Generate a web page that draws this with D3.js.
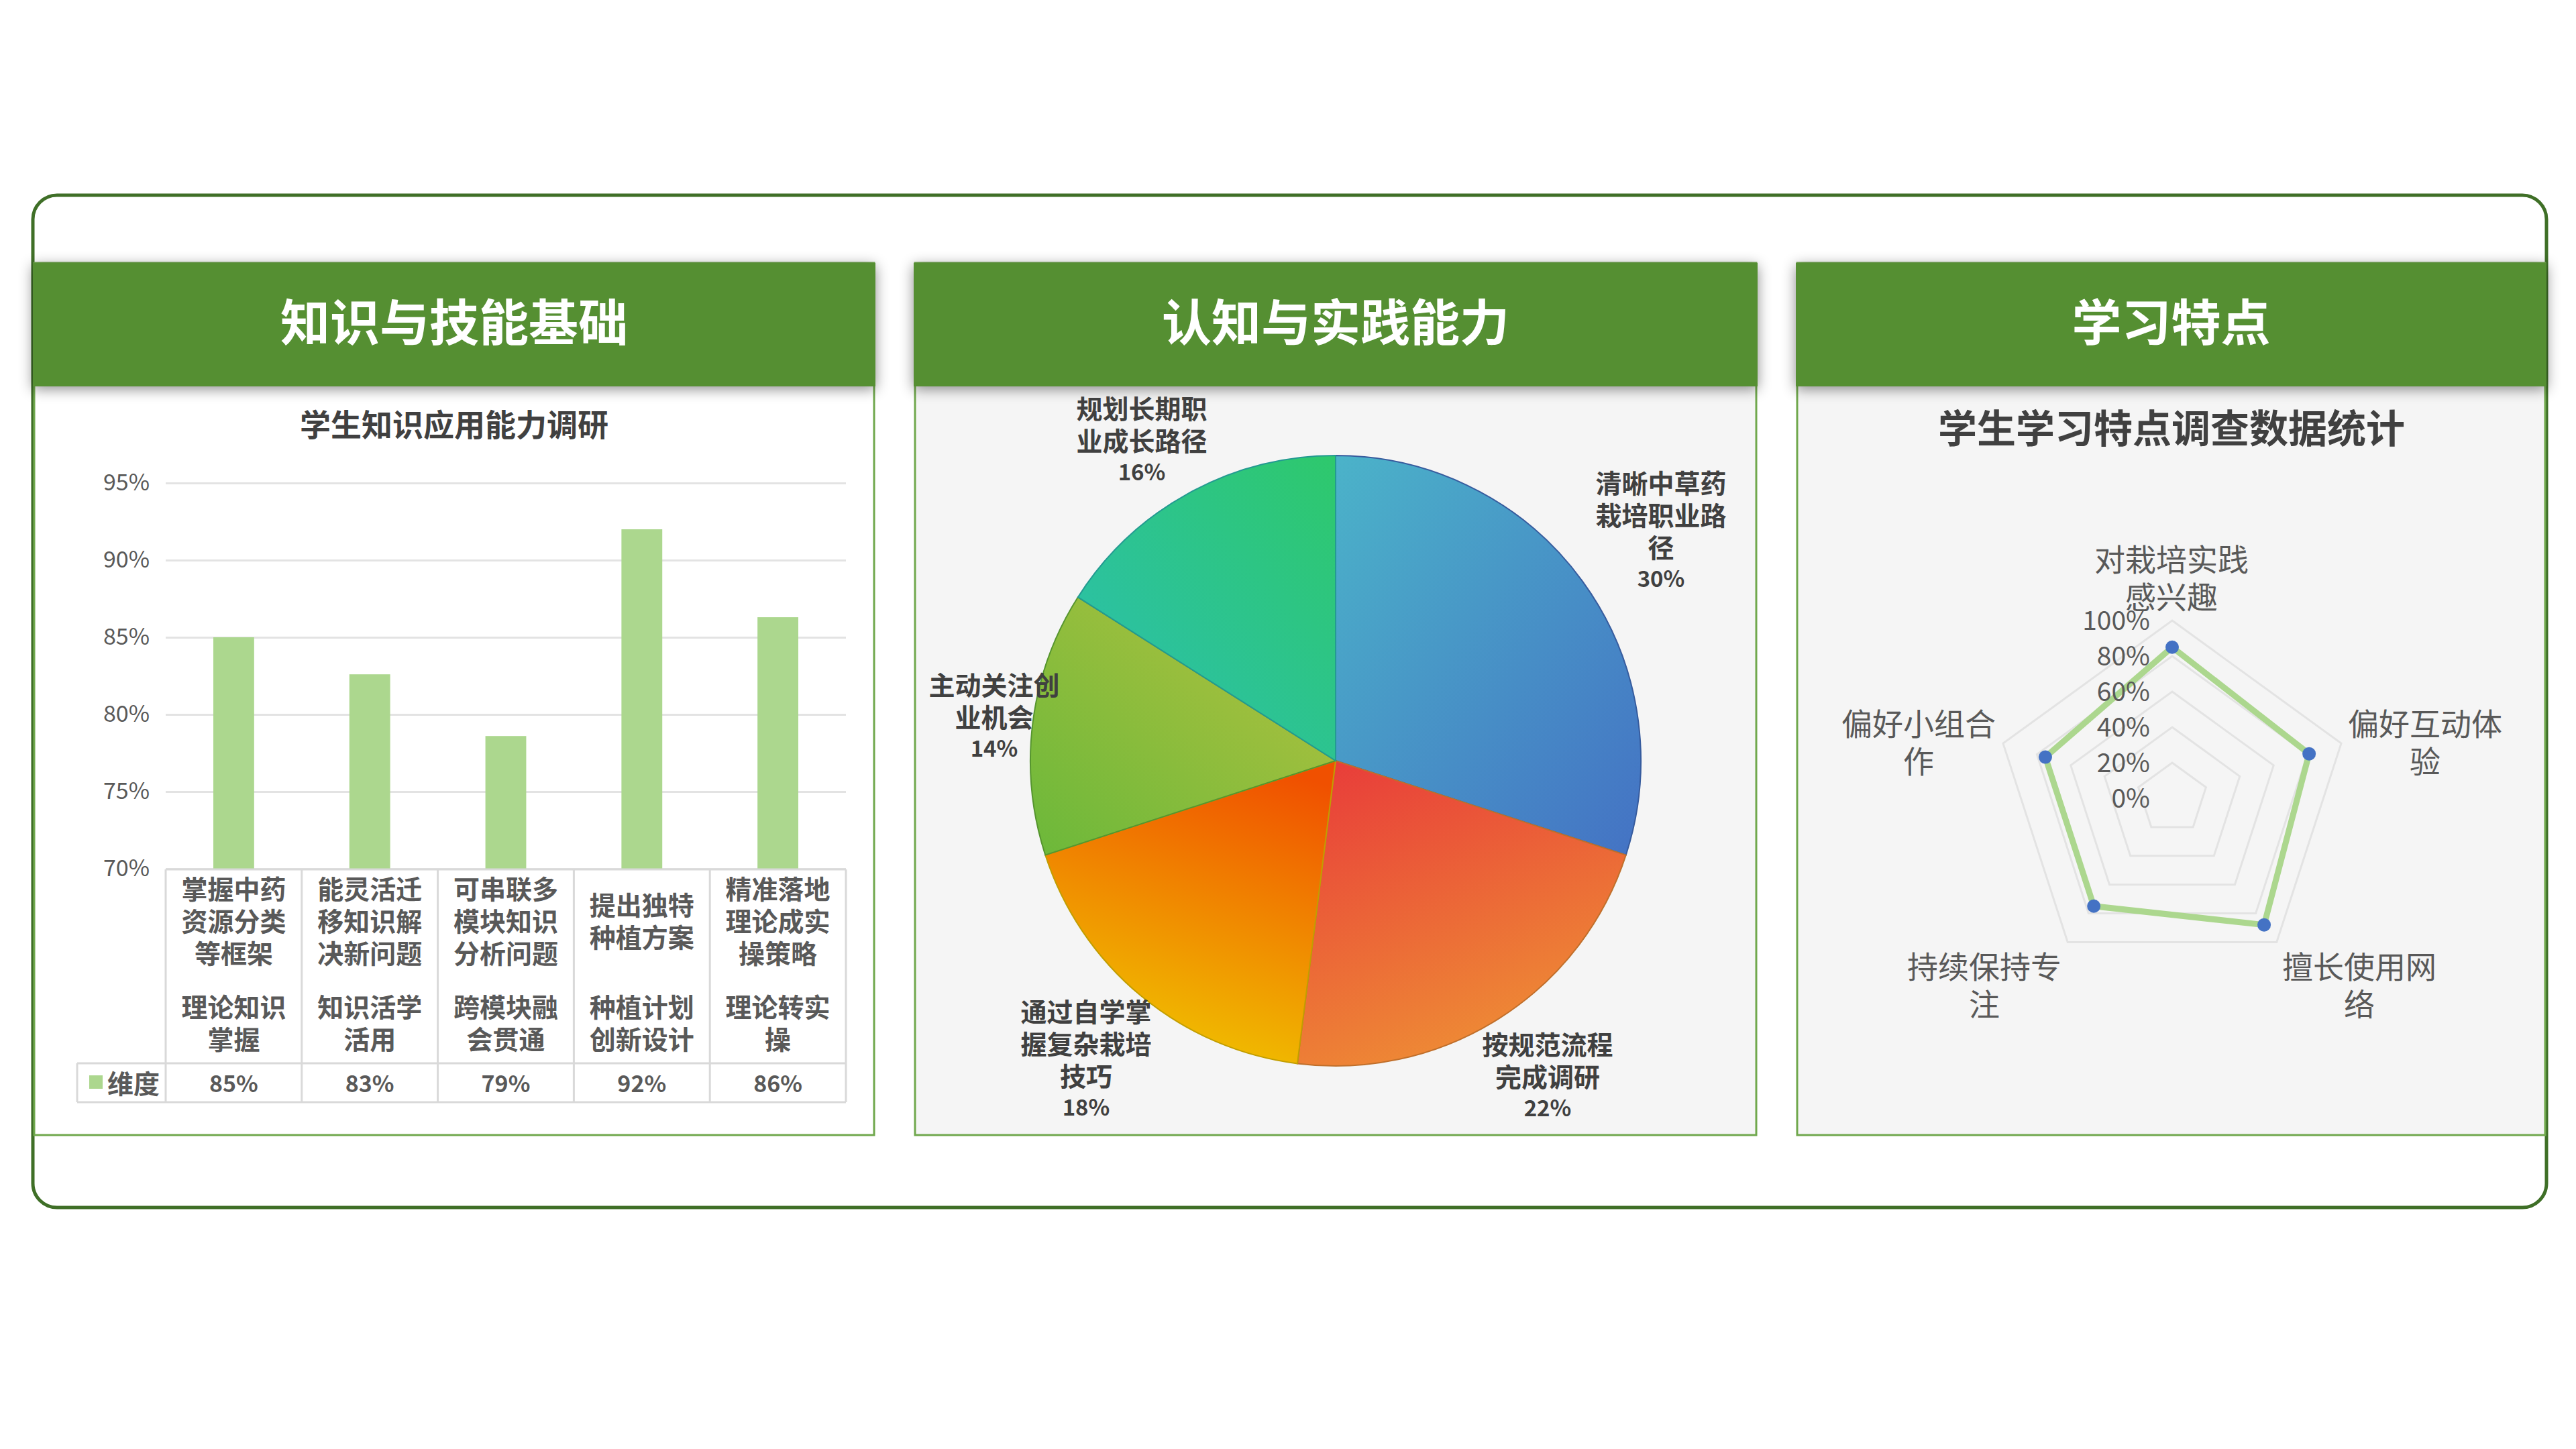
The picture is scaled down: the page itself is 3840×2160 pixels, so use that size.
<!DOCTYPE html>
<html><head><meta charset="utf-8">
<script src="https://cdn.jsdelivr.net/npm/d3@7"></script>
<style>body{margin:0;background:#fff}svg{display:block}text{font-family:"Noto Sans CJK SC","Noto Sans",sans-serif}</style>
</head><body>
<svg id="c" width="3840" height="2160"></svg>
<script>
// ---- data ----
const panelTitles = ["知识与技能基础", "认知与实践能力", "学习特点"];
const barTitle = "学生知识应用能力调研";
const barCats1 = [["掌握中药","资源分类","等框架"],["能灵活迁","移知识解","决新问题"],["可串联多","模块知识","分析问题"],["提出独特","种植方案"],["精准落地","理论成实","操策略"]];
const barCats2 = [["理论知识","掌握"],["知识活学","活用"],["跨模块融","会贯通"],["种植计划","创新设计"],["理论转实","操"]];
const barValues = [0.85, 0.826, 0.786, 0.92, 0.863];
const barSeries = "维度";
const barTicks = [0.70, 0.75, 0.80, 0.85, 0.90, 0.95];
const pieLabels = [["清晰中草药","栽培职业路","径"],["按规范流程","完成调研"],["通过自学掌","握复杂栽培","技巧"],["主动关注创","业机会"],["规划长期职","业成长路径"]];
const pieValues = [0.30, 0.22, 0.18, 0.14, 0.16];
const radarTitle = "学生学习特点调查数据统计";
const radarAxes = [["对栽培实践","感兴趣"],["偏好互动体","验"],["擅长使用网","络"],["持续保持专","注"],["偏好小组合","作"]];
const radarValues = [0.85, 0.81, 0.88, 0.75, 0.75];
const radarTicks = [0, 0.2, 0.4, 0.6, 0.8, 1.0];

const svg = d3.select("#c");
const G = "#548f33";
const defs = svg.append("defs");
const f = defs.append("filter").attr("id","sh").attr("x","-5%").attr("y","-20%").attr("width","110%").attr("height","150%");
f.append("feDropShadow").attr("dx",0).attr("dy",4).attr("stdDeviation",10).attr("flood-color","#000").attr("flood-opacity",0.45);

svg.append("rect").attr("x",49).attr("y",291).attr("width",3747).attr("height",1509).attr("rx",36)
  .attr("fill","#fff").attr("stroke","#3f6f27").attr("stroke-width",5);

const panels = [{x:49,w:1256,bg:"#fff"},{x:1362,w:1258,bg:"#f5f5f5"},{x:2677,w:1119,bg:"#f5f5f5"}];
panels.forEach((p,i)=>{
  svg.append("rect").attr("x",p.x+2).attr("y",392).attr("width",p.w-4).attr("height",1300).attr("fill",p.bg).attr("stroke","#70a84d").attr("stroke-width",3);
  svg.append("rect").attr("x",p.x).attr("y",392).attr("width",p.w).attr("height",184).attr("fill",G).attr("filter","url(#sh)");
  svg.append("text").attr("x",p.x+p.w/2).attr("y",508).attr("text-anchor","middle").attr("fill","#fff")
    .attr("font-size",74).attr("font-weight","bold").text(panelTitles[i]);
});

// ---- bar chart ----
const gray="#595959";
svg.append("text").attr("x",677).attr("y",650).attr("text-anchor","middle").attr("font-size",46).attr("font-weight","bold").attr("fill","#404040").text(barTitle);
const x0=247,x1=1261;
const y = d3.scaleLinear().domain([0.70,0.95]).range([1295,720]);
const x = d3.scaleBand().domain(d3.range(5)).range([x0,x1]).paddingInner(0.7).paddingOuter(0.35);
const xc = d3.scaleBand().domain(d3.range(5)).range([x0,x1]);
const yAxis = d3.axisLeft(y).tickValues(barTicks).tickSize(-(x1-x0)).tickFormat(d3.format(".0%"));
const ya = svg.append("g").attr("transform",`translate(${x0},0)`).call(yAxis);
ya.select(".domain").remove();
ya.selectAll(".tick line").attr("stroke","#e3e3e3").attr("stroke-width",3);
ya.selectAll(".tick text").attr("font-size",34).attr("fill",gray).attr("x",-24).attr("font-family","Noto Sans");
svg.append("g").selectAll("rect").data(barValues).join("rect")
  .attr("x",(d,i)=>x(i)).attr("width",x.bandwidth()).attr("y",d=>y(d)).attr("height",d=>y(0.70)-y(d)).attr("fill","#acd78e");
// table
const tb = svg.append("g").attr("stroke","#d9d9d9").attr("stroke-width",3).attr("fill","none");
tb.append("line").attr("x1",x0).attr("x2",x1).attr("y1",1296).attr("y2",1296);
tb.append("line").attr("x1",115).attr("x2",x1).attr("y1",1585).attr("y2",1585);
tb.append("line").attr("x1",115).attr("x2",x1).attr("y1",1643).attr("y2",1643);
tb.append("line").attr("x1",115).attr("x2",115).attr("y1",1585).attr("y2",1643);
d3.range(6).forEach(i=>{const xx=x0+i*xc.bandwidth();tb.append("line").attr("x1",xx).attr("x2",xx).attr("y1",1296).attr("y2",1643);});
const tg = svg.append("g").attr("font-size",39).attr("font-weight","bold").attr("fill",gray).attr("text-anchor","middle");
barCats1.forEach((ls,i)=>{
  const cx=xc(i)+xc.bandwidth()/2, off = ls.length===2?24:0;
  ls.forEach((l,j)=>tg.append("text").attr("x",cx).attr("y",1340+off+j*48).text(l));
  barCats2[i].forEach((l,j)=>tg.append("text").attr("x",cx).attr("y",1516+j*48).text(l));
  tg.append("text").attr("x",cx).attr("y",1628).attr("font-size",34).text(d3.format(".0%")(barValues[i]));
});
svg.append("rect").attr("x",133).attr("y",1603).attr("width",20).attr("height",20).attr("fill","#acd78e");
tg.append("text").attr("x",160).attr("y",1630).attr("text-anchor","start").text(barSeries);

// ---- pie ----
const grads=[["#4bb3c9","#4472c4"],["#e83a3a","#ee8a35"],["#f05000","#f0c400"],["#b5c23f","#6bb83a"],["#2ec86c","#2bbfb3"]];
const gdir=[[0,0,1,1],[0,0,0.4,1],[0.7,0,0.4,1],[1,0,0,1],[1,0,0,1]];
grads.forEach((g,i)=>{const lg=defs.append("linearGradient").attr("id","pg"+i)
  .attr("x1",gdir[i][0]).attr("y1",gdir[i][1]).attr("x2",gdir[i][2]).attr("y2",gdir[i][3]);
  lg.append("stop").attr("offset",0).attr("stop-color",g[0]);lg.append("stop").attr("offset",1).attr("stop-color",g[1]);});
const pcx=1991,pcy=1134,R=455;
const arcs=d3.pie().sort(null)(pieValues);
const arc=d3.arc().innerRadius(0).outerRadius(R);
svg.append("g").attr("transform",`translate(${pcx},${pcy})`).selectAll("path").data(arcs).join("path")
  .attr("d",arc).attr("fill",(d,i)=>`url(#pg${i})`).attr("stroke",(d,i)=>d3.color(grads[i][1]).darker(0.6)).attr("stroke-width",2);
const plPos=[[2476,735],[2307,1572],[1619,1523],[1482,1036],[1702,624]];
const pl=svg.append("g").attr("font-weight","bold").attr("fill","#404040").attr("text-anchor","middle");
pieLabels.forEach((ls,i)=>{
  const [px,py]=plPos[i];
  ls.forEach((l,j)=>pl.append("text").attr("x",px).attr("y",py+j*48).attr("font-size",39).text(l));
  pl.append("text").attr("x",px).attr("y",py+ls.length*48-4).attr("font-size",33).text(d3.format(".0%")(pieValues[i]));
});

// ---- radar ----
svg.append("text").attr("x",3237).attr("y",660).attr("text-anchor","middle").attr("font-size",58).attr("font-weight","bold").attr("fill","#404040").text(radarTitle);
const rcx=3238,rcy=1190,RR=265;
const r=d3.scaleLinear().domain([0,1]).range([0,RR]);
const ang=i=>-Math.PI/2+i*2*Math.PI/5;
const pt=(i,v)=>[rcx+r(v)*Math.cos(ang(i)),rcy+r(v)*Math.sin(ang(i))];
const line=d3.line();
const rg=svg.append("g");
radarTicks.slice(1).forEach(t=>rg.append("path").attr("d",line(d3.range(5).map(i=>pt(i,t)))+"Z").attr("fill","none").attr("stroke","#e3e3e3").attr("stroke-width",3));
rg.append("path").attr("d",line(radarValues.map((v,i)=>pt(i,v)))+"Z").attr("fill","none").attr("stroke","#acd78e").attr("stroke-width",9);
rg.selectAll("circle").data(radarValues).join("circle").attr("cx",(v,i)=>pt(i,v)[0]).attr("cy",(v,i)=>pt(i,v)[1]).attr("r",10).attr("fill","#4472c4");
radarTicks.forEach(t=>rg.append("text").attr("x",3205).attr("y",rcy-r(t)+14).attr("text-anchor","end").attr("font-size",39).attr("fill",gray).attr("font-family","Noto Sans").text(d3.format(".0%")(t)));
const rlPos=[[3237,851],[3615,1096],[3517,1458],[2958,1458],[2860,1096]];
radarAxes.forEach((ls,i)=>ls.forEach((l,j)=>rg.append("text").attr("x",rlPos[i][0]).attr("y",rlPos[i][1]+j*56).attr("text-anchor","middle").attr("font-size",46).attr("fill",gray).text(l)));
</script>
</body></html>
